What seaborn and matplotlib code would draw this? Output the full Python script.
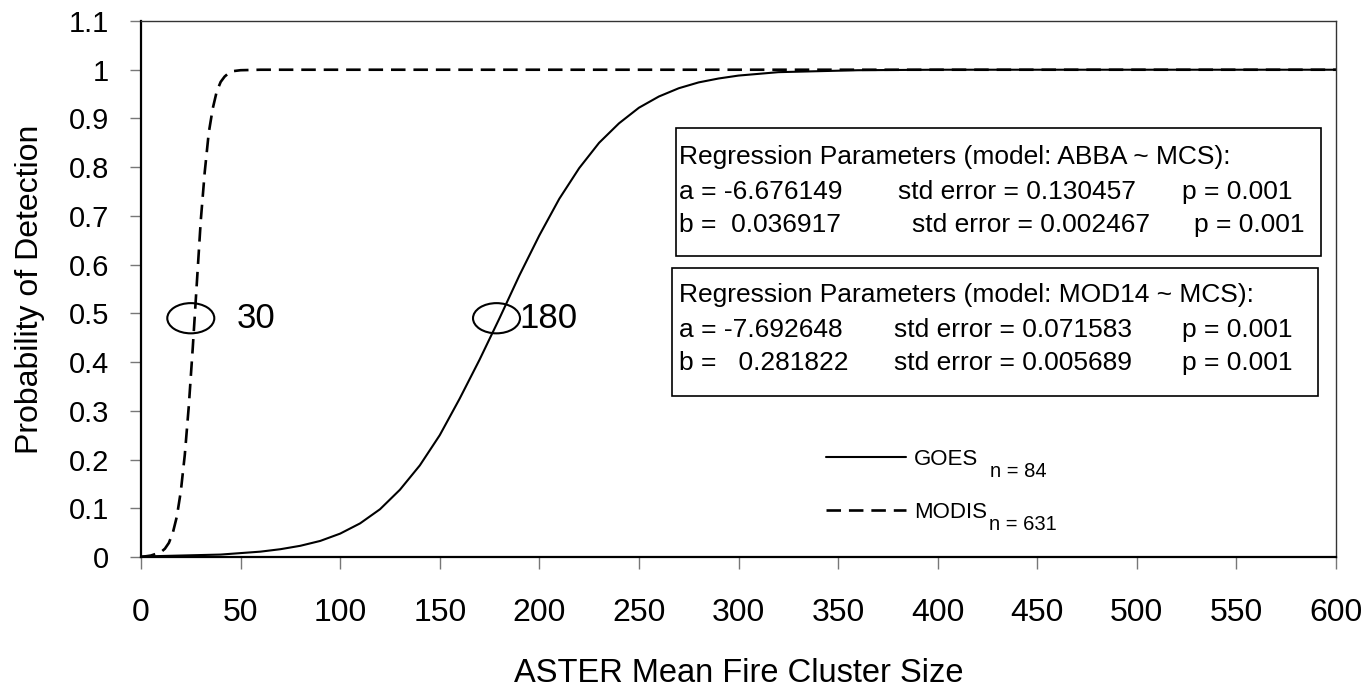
import numpy as np
import pandas as pd
import matplotlib
matplotlib.use("Agg")
import matplotlib.pyplot as plt
from matplotlib.patches import Ellipse, Rectangle
import seaborn as sns

# values
goes_x = [0, 10, 20, 30, 40, 50, 60, 70, 80, 90, 100, 110, 120, 130, 140, 150,
          160, 170, 180, 190, 200, 210, 220, 230, 240, 250, 260, 270, 280, 290,
          300, 320, 340, 360, 380, 400, 450, 500, 550, 600]
goes_y = [0.001, 0.002, 0.003, 0.004, 0.005, 0.008, 0.011, 0.016, 0.023, 0.033,
          0.048, 0.069, 0.098, 0.138, 0.188, 0.25, 0.325, 0.405, 0.49, 0.578,
          0.66, 0.735, 0.798, 0.85, 0.89, 0.922, 0.945, 0.962, 0.974, 0.982,
          0.988, 0.995, 0.997, 0.999, 0.9995, 1.0, 1.0, 1.0, 1.0, 1.0]

modis_x = [0, 5, 10, 12, 14, 16, 18, 20, 22, 24, 26, 28, 30, 32, 34, 36, 38,
           40, 42, 44, 46, 50, 60, 100, 200, 300, 400, 500, 600]
modis_y = [0.0, 0.003, 0.01, 0.017, 0.029, 0.05, 0.083, 0.135, 0.21, 0.31,
           0.43, 0.56, 0.69, 0.79, 0.87, 0.92, 0.955, 0.975, 0.986, 0.993,
           0.997, 0.999, 1.0, 1.0, 1.0, 1.0, 1.0, 1.0, 1.0]

x_ticks = list(range(0, 601, 50))
y_ticks = [0, 0.1, 0.2, 0.3, 0.4, 0.5, 0.6, 0.7, 0.8, 0.9, 1.0, 1.1]
y_tick_labels = ["0", "0.1", "0.2", "0.3", "0.4", "0.5", "0.6", "0.7", "0.8", "0.9", "1", "1.1"]

# 50% points circled on the chart
mid_x = [25, 178.5]
mid_y = 0.49
mid_labels = ["30", "180"]
mid_label_x = [48, 190]

series_names = ["GOES", "MODIS"]
series_n = ["n = 84", "n = 631"]

box1_title = "Regression Parameters (model: ABBA ~ MCS):"
box1_rows = [["a = -6.676149", "std error = 0.130457", "p = 0.001"],
             ["b =  0.036917", "std error = 0.002467", "p = 0.001"]]
box2_title = "Regression Parameters (model: MOD14 ~ MCS):"
box2_rows = [["a = -7.692648", "std error = 0.071583", "p = 0.001"],
             ["b =   0.281822", "std error = 0.005689", "p = 0.001"]]

sns.set_theme(style="white", rc={"text.color": "black", "axes.labelcolor": "black",
                                 "xtick.color": "black", "ytick.color": "black"})
plt.rcParams["font.family"] = ["Liberation Sans", "Arial", "DejaVu Sans"]

W, H = 1367, 695
fig, ax = plt.subplots(figsize=(W / 100, H / 100), dpi=100)
fig.subplots_adjust(left=141 / W, right=1336 / W, bottom=1 - 557 / H, top=1 - 21 / H)

df_goes = pd.DataFrame({"x": goes_x, "y": goes_y})
df_modis = pd.DataFrame({"x": modis_x, "y": modis_y})
sns.lineplot(data=df_goes, x="x", y="y", ax=ax, color="black", lw=1.5, label=series_names[0])
sns.lineplot(data=df_modis, x="x", y="y", ax=ax, color="black", lw=1.9,
             linestyle=(0, (5.5, 3)), label=series_names[1])

ax.set_xlim(0, 600)
ax.set_ylim(0, 1.1)
ax.set_xticks(x_ticks)
ax.set_xticklabels([str(t) for t in x_ticks], fontsize=23)
ax.set_yticks(y_ticks)
ax.set_yticklabels(y_tick_labels, fontsize=21)
ax.tick_params(axis="x", direction="out", length=8.5, width=1, color="#777777",
               labelcolor="black", pad=21, bottom=True)
ax.tick_params(axis="y", direction="out", length=8, width=1, color="#777777",
               labelcolor="black", pad=15, left=True)

for s in ["left", "bottom"]:
    ax.spines[s].set_color("black")
    ax.spines[s].set_linewidth(1.6)
for s in ["top", "right"]:
    ax.spines[s].set_color("#333333")
    ax.spines[s].set_linewidth(1.0)

ax.set_xlabel("ASTER Mean Fire Cluster Size", fontsize=23.5)
ax.set_ylabel("Probability of Detection", fontsize=23)
ax.xaxis.set_label_coords(0.5, (557 - 658) / 536)
ax.yaxis.set_label_coords((45 - 141) / 1195, 0.5)

# ellipses + labels at the 50% points
for mx, lx, lab in zip(mid_x, mid_label_x, mid_labels):
    ax.add_patch(Ellipse((mx, mid_y), width=23.6, height=0.062, fill=False,
                         edgecolor="black", lw=1.5))
    ax.text(lx, mid_y, lab, fontsize=25, ha="left", va="center")

# regression boxes, placed in figure pixels
def fx(px):
    return px / W

def fy(py):
    return 1 - py / H

for (x0, y0, x1, y1) in [(676, 128, 1321, 256), (672, 268, 1318, 396)]:
    fig.patches.append(Rectangle((fx(x0), fy(y1)), fx(x1) - fx(x0), fy(y0) - fy(y1),
                                 transform=fig.transFigure, fill=False,
                                 edgecolor="black", lw=1.2))

fs_box = 19
fig.text(fx(679), fy(164), box1_title, fontsize=fs_box, va="baseline")
for row, xs, base in zip(box1_rows, [[679, 898, 1182], [679, 912, 1194]], [199, 232]):
    for txt, px in zip(row, xs):
        fig.text(fx(px), fy(base), txt, fontsize=fs_box, va="baseline")
fig.text(fx(679), fy(302), box2_title, fontsize=fs_box, va="baseline")
for row, xs, base in zip(box2_rows, [[679, 894, 1182], [679, 894, 1182]], [337, 370]):
    for txt, px in zip(row, xs):
        fig.text(fx(px), fy(base), txt, fontsize=fs_box, va="baseline")

leg = ax.legend(loc="upper left", bbox_to_anchor=((826 - 141) / 1195, (557 - 449) / 536),
                frameon=False, fontsize=16, handlelength=3.6, handletextpad=0.35,
                borderpad=0, borderaxespad=0, labelspacing=1.43)

# subscripts "n = ..." after each legend entry
fig.canvas.draw()
for t, sub, gap in zip(leg.get_texts(), series_n, [12, 2]):
    bb = t.get_window_extent()
    fig.text((bb.x1 + gap) / W, (bb.y0 - 11) / H, sub, fontsize=14.5, va="bottom")

fig.savefig("out.png", dpi=100)
